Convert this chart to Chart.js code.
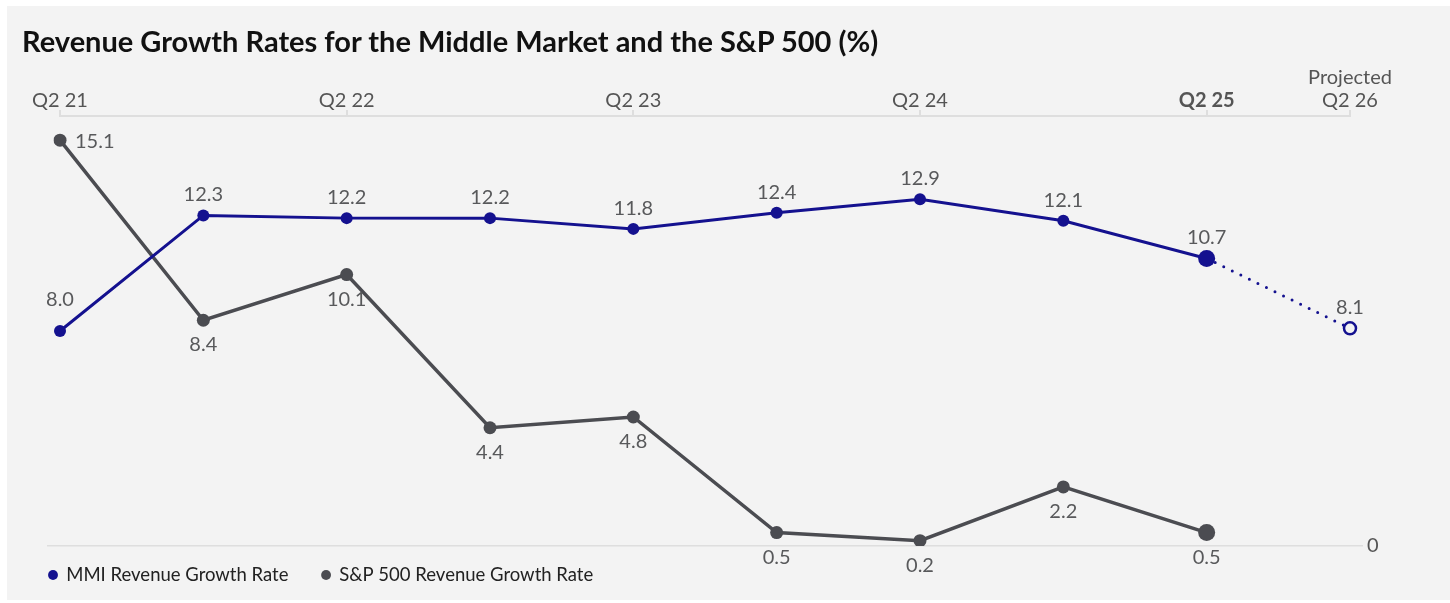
<!DOCTYPE html>
<html><head><meta charset="utf-8">
<script src="https://cdn.jsdelivr.net/npm/chart.js@4.4.1/dist/chart.umd.min.js"></script>
<style>
html,body{margin:0;padding:0;background:#ffffff;}
#panel{position:absolute;left:7px;top:6px;width:1443px;height:594px;background:#f3f3f3;overflow:hidden;}
#title{position:absolute;left:15px;top:20px;font:700 29px Lato,sans-serif;line-height:30px;color:#111;white-space:nowrap;}
canvas{position:absolute;left:0;top:0;}
</style></head>
<body>
<div id="panel"><canvas id="c" width="1443" height="594"></canvas><div id="title">Revenue Growth Rates for the Middle Market and the S&amp;P 500 (%)</div></div>
<script>
// ---- data ----
const categories = ['Q2 21','Q4 21','Q2 22','Q4 22','Q2 23','Q4 23','Q2 24','Q4 24','Q2 25','Q2 26'];
const tickLabels = ['Q2 21','','Q2 22','','Q2 23','','Q2 24','','Q2 25',['Projected','Q2 26']];
const mmiValues = [8.0, 12.3, 12.2, 12.2, 11.8, 12.4, 12.9, 12.1, 10.7, 8.1];
const spValues  = [15.1, 8.4, 10.1, 4.4, 4.8, 0.5, 0.2, 2.2, 0.5, null];
const seriesNames = ['MMI Revenue Growth Rate', 'S&P 500 Revenue Growth Rate'];
const latestIndex = 8;      // Q2 25 (bold)
const projectedIndex = 9;   // Q2 26 projected

// ---- styles ----
const BG = '#f3f3f3';
const MMI = '#14118f';
const SP = '#4b4c51';
const TXT = '#58595b';
const GRID = '#dedede';

const labelStyle = [
  {pos:'above', gap:14, first:{pos:'above', gap:25}},
  {pos:'below', gap:31, first:{pos:'right', gap:15}}
];

const pointLabels = {
  id:'pointLabels',
  afterDatasetsDraw(chart){
    const ctx = chart.ctx;
    ctx.save();
    ctx.font = '20px Lato, sans-serif';
    ctx.fillStyle = TXT;
    chart.data.datasets.forEach((ds, di) => {
      const meta = chart.getDatasetMeta(di);
      meta.data.forEach((pt, i) => {
        const v = ds.data[i];
        if (v === null || v === undefined) return;
        const st = (i === 0 && labelStyle[di].first) ? labelStyle[di].first : labelStyle[di];
        const t = v.toFixed(1);
        if (st.pos === 'above') {
          ctx.textAlign = 'center'; ctx.textBaseline = 'alphabetic';
          ctx.fillText(t, pt.x, pt.y - st.gap);
        } else if (st.pos === 'below') {
          ctx.textAlign = 'center'; ctx.textBaseline = 'alphabetic';
          ctx.fillText(t, pt.x, pt.y + st.gap);
        } else {
          ctx.textAlign = 'left'; ctx.textBaseline = 'middle';
          ctx.fillText(t, pt.x + st.gap, pt.y + 1);
        }
      });
    });
    ctx.restore();
  }
};

const shownTicks = tickLabels.map((l, i) => (l !== '' ? i : -1)).filter(i => i >= 0);

new Chart(document.getElementById('c'), {
  type: 'line',
  data: {
    labels: categories,
    datasets: [
      {
        label: seriesNames[0],
        data: mmiValues,
        borderColor: MMI,
        backgroundColor: MMI,
        borderWidth: 3,
        borderCapStyle: 'round',
        pointStyle: 'circle',
        pointRadius: mmiValues.map((v, i) => i === latestIndex ? 8.5 : 6),
        pointBackgroundColor: mmiValues.map((v, i) => i === projectedIndex ? BG : MMI),
        pointBorderColor: MMI,
        pointBorderWidth: mmiValues.map((v, i) => i === projectedIndex ? 2.5 : 0),
        pointHoverRadius: 6,
        segment: {
          borderDash: c => (c.p1DataIndex === projectedIndex ? [0, 9.5] : undefined)
        },
        tension: 0
      },
      {
        label: seriesNames[1],
        data: spValues,
        borderColor: SP,
        backgroundColor: SP,
        borderWidth: 3.5,
        pointStyle: 'circle',
        pointRadius: spValues.map((v, i) => i === latestIndex ? 8.5 : 6.5),
        pointBackgroundColor: SP,
        pointBorderWidth: 0,
        tension: 0
      }
    ]
  },
  options: {
    responsive: false,
    animation: false,
    layout: { padding: { left: 22.25, right: 0, top: 40, bottom: 5.75 } },
    scales: {
      x: {
        position: 'top',
        offset: false,
        afterBuildTicks: s => { s.ticks = s.ticks.filter(t => shownTicks.includes(t.value)); },
        afterFit: s => { s.height = 70; },
        ticks: {
          autoSkip: false,
          maxRotation: 0,
          padding: -2,
          color: '#555',
          font: c => ({ family: 'Lato', size: 20, weight: (c.tick && c.tick.value === latestIndex) ? 'bold' : 'normal', lineHeight: 1.15 }),
          callback: v => tickLabels[v]
        },
        grid: { drawOnChartArea: false, color: GRID, tickLength: 6, lineWidth: 2 },
        border: { display: true, color: GRID, width: 2 }
      },
      y: {
        position: 'right',
        min: 0, max: 16,
        afterBuildTicks: s => { s.ticks = [{ value: 0 }]; },
        afterFit: s => { s.width = 100; },
        ticks: { padding: 4, color: '#555', font: { family: 'Lato', size: 20 } },
        grid: { color: GRID, lineWidth: 1.5, tickLength: 13 },
        border: { display: false }
      },
      y2: {
        position: 'left',
        min: 0, max: 16,
        afterBuildTicks: s => { s.ticks = [{ value: 0 }]; },
        afterFit: s => { s.width = 30.75; },
        ticks: { display: false },
        grid: { drawOnChartArea: false, color: GRID, lineWidth: 1.5, tickLength: 13 },
        border: { display: false }
      }
    },
    plugins: {
      title: { display: false },
      tooltip: { enabled: false },
      legend: {
        position: 'bottom',
        align: 'start',
        labels: {
          usePointStyle: true,
          pointStyle: 'circle',
          boxWidth: 8,
          boxHeight: 7,
          padding: 19.75,
          color: '#222',
          font: { family: 'Lato', size: 18.5 },
          generateLabels: chart => {
            const items = Chart.defaults.plugins.legend.labels.generateLabels(chart);
            if (items.length) items[0].text += '\u2003';
            return items;
          }
        }
      }
    }
  },
  plugins: [pointLabels]
});
</script>
</body></html>
